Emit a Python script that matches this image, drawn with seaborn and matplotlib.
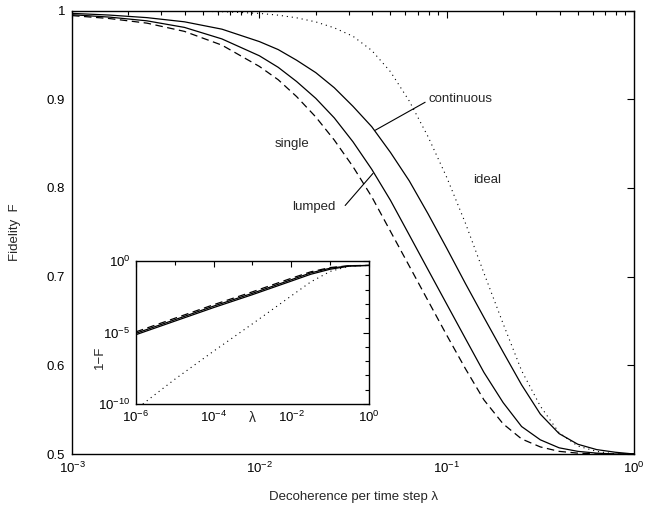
import numpy as np
import pandas as pd
import matplotlib
matplotlib.use("Agg")
import matplotlib.pyplot as plt
from matplotlib.ticker import LogLocator, FixedLocator, NullFormatter, FuncFormatter, LogFormatterSciNotation
import seaborn as sns

# --- values ---
# main panel: decoherence per step (lambda) vs fidelity F
lam = [0.001, 0.00158, 0.00251, 0.00398, 0.00631, 0.01, 0.0126, 0.0158, 0.02, 0.0251,
       0.0316, 0.0398, 0.0501, 0.0631, 0.0794, 0.1, 0.126, 0.158, 0.2, 0.251,
       0.316, 0.398, 0.501, 0.631, 0.794, 1.0]

F_cont = [0.9968, 0.9949, 0.9920, 0.9873, 0.979, 0.965, 0.956, 0.944, 0.930, 0.913,
          0.892, 0.869, 0.840, 0.808, 0.771, 0.732, 0.692, 0.654, 0.615, 0.578,
          0.545, 0.523, 0.511, 0.505, 0.502, 0.500]

F_lump = [0.9953, 0.9926, 0.9884, 0.981, 0.968, 0.949, 0.936, 0.920, 0.901, 0.879,
          0.852, 0.821, 0.786, 0.747, 0.708, 0.669, 0.630, 0.592, 0.558, 0.531,
          0.516, 0.507, 0.503, 0.501, 0.500, 0.500]

F_single = [0.9943, 0.9910, 0.9858, 0.9765, 0.961, 0.937, 0.922, 0.903, 0.880, 0.854,
            0.824, 0.790, 0.751, 0.712, 0.673, 0.634, 0.596, 0.561, 0.534, 0.517,
            0.508, 0.503, 0.501, 0.500, 0.500, 0.500]

F_ideal = [0.99997, 0.99992, 0.9998, 0.9995, 0.9987, 0.9968, 0.9948, 0.9918, 0.9872, 0.9805,
           0.971, 0.955, 0.931, 0.898, 0.858, 0.812, 0.760, 0.704, 0.647, 0.594,
           0.554, 0.524, 0.509, 0.503, 0.500, 0.500]

# inset: 1-F on log-log axes
lam_in = [1e-6, 1e-5, 1e-4, 1e-3, 1e-2, 3.16e-2, 0.1, 0.316, 1.0]
inf_single = [1.12e-5, 1.0e-4, 8.9e-4, 7.1e-3, 6.3e-2, 0.178, 0.355, 0.48, 0.5]
inf_lump = [8.9e-6, 7.9e-5, 7.1e-4, 5.6e-3, 5.0e-2, 0.15, 0.32, 0.47, 0.5]
inf_cont = [7.1e-6, 6.3e-5, 5.6e-4, 4.5e-3, 4.0e-2, 0.12, 0.27, 0.45, 0.5]
lam_in_ideal = [1.5e-6, 1e-5, 1e-4, 1e-3, 1e-2, 3.16e-2, 0.1, 0.316, 1.0]
inf_ideal = [1e-10, 5.4e-9, 5e-7, 4.1e-5, 3.7e-3, 3.5e-2, 0.19, 0.45, 0.5]

yticks_main = [0.5, 0.6, 0.7, 0.8, 0.9, 1.0]

sns.set_theme(style="white")
plt.rcParams['font.family'] = ['Liberation Sans', 'DejaVu Sans']
plt.rcParams['mathtext.fontset'] = 'custom'
plt.rcParams['mathtext.rm'] = 'Liberation Sans'
plt.rcParams['mathtext.it'] = 'Liberation Sans:italic'
plt.rcParams['axes.edgecolor'] = 'black'
plt.rcParams['axes.linewidth'] = 1.0

fig = plt.figure(figsize=(6.62, 5.14), dpi=100)
ax = fig.add_axes([0.1088, 0.1167, 0.849, 0.8628])
ax.set_xscale('log')

dash = (0, (6.0, 3.6))
dot = (0, (1.0, 3.5))

sns.lineplot(x=lam, y=F_cont, ax=ax, color='black', lw=0.9, sort=False)
sns.lineplot(x=lam, y=F_lump, ax=ax, color='black', lw=0.9, sort=False)
sns.lineplot(x=lam, y=F_single, ax=ax, color='black', lw=0.9, linestyle=dash, sort=False)
sns.lineplot(x=lam, y=F_ideal, ax=ax, color='black', lw=0.8, linestyle=dot, sort=False)

ax.set_xlim(1e-3, 1.0)
ax.set_ylim(0.5, 1.0)
ax.set_yticks(yticks_main)
ax.yaxis.set_major_formatter(FuncFormatter(lambda v, p: f"{v:g}"))
ax.xaxis.set_major_locator(LogLocator(base=10, numticks=10))
ax.xaxis.set_minor_locator(LogLocator(base=10, subs=np.arange(2, 10), numticks=20))
ax.xaxis.set_minor_formatter(NullFormatter())
ax.tick_params(which='both', direction='in', top=True, right=True, colors='black',
               labelsize=9.5, pad=5)
ax.tick_params(which='major', length=5, width=0.8)
ax.tick_params(which='minor', length=3, width=0.8)

ax.set_ylabel('Fidelity  F', fontsize=9.5)
ax.yaxis.set_label_coords(-0.09, 0.5)
ax.set_xlabel('Decoherence per time step λ', fontsize=9.5)
ax.xaxis.set_label_coords(0.5, -0.083)

# curve labels
ax.text(0.0796, 0.900, 'continuous', fontsize=9.5, va='center', ha='left')
ax.text(0.138, 0.8085, 'ideal', fontsize=9.5, va='center', ha='left')
ax.text(0.01213, 0.849, 'single', fontsize=9.5, va='center', ha='left')
ax.text(0.01496, 0.778, 'lumped', fontsize=9.5, va='center', ha='left')
ax.plot([0.0415, 0.0767], [0.865, 0.8966], color='black', lw=0.8)
ax.plot([0.0287, 0.0404], [0.7802, 0.8164], color='black', lw=0.8)

# inset
axi = fig.add_axes([0.2054, 0.214, 0.352, 0.278])
axi.set_facecolor('white')
axi.set_xscale('log')
axi.set_yscale('log')
sns.lineplot(x=lam_in, y=inf_cont, ax=axi, color='black', lw=0.9, sort=False)
sns.lineplot(x=lam_in, y=inf_lump, ax=axi, color='black', lw=0.9, sort=False)
sns.lineplot(x=lam_in, y=inf_single, ax=axi, color='black', lw=0.9, linestyle=dash, sort=False)
sns.lineplot(x=lam_in_ideal, y=inf_ideal, ax=axi, color='black', lw=0.8, linestyle=dot, sort=False)
axi.set_xlim(1e-6, 1.0)
axi.set_ylim(1e-10, 1.0)
axi.xaxis.set_major_locator(FixedLocator([1e-6, 1e-4, 1e-2, 1e0]))
axi.xaxis.set_minor_locator(FixedLocator([1e-5, 1e-3, 1e-1]))
axi.yaxis.set_major_locator(FixedLocator([1e-10, 1e-5, 1e0]))
axi.yaxis.set_minor_locator(FixedLocator([1e-9, 1e-8, 1e-7, 1e-6, 1e-4, 1e-3, 1e-2, 1e-1]))
axi.xaxis.set_major_formatter(LogFormatterSciNotation())
axi.yaxis.set_major_formatter(LogFormatterSciNotation())
axi.xaxis.set_minor_formatter(NullFormatter())
axi.yaxis.set_minor_formatter(NullFormatter())
axi.tick_params(which='both', direction='in', top=True, right=True, colors='black',
                labelsize=9.5, pad=4)
axi.tick_params(which='major', length=4, width=0.8)
axi.tick_params(which='minor', length=3, width=0.8)
for s in axi.spines.values():
    s.set_linewidth(1.0)
axi.set_ylabel('1−F', fontsize=9.5)
axi.yaxis.set_label_coords(-0.128, 0.33)
axi.set_xlabel('λ', fontsize=10)
axi.xaxis.set_label_coords(0.5, -0.05)

fig.savefig('out.png', dpi=100, facecolor='white')
